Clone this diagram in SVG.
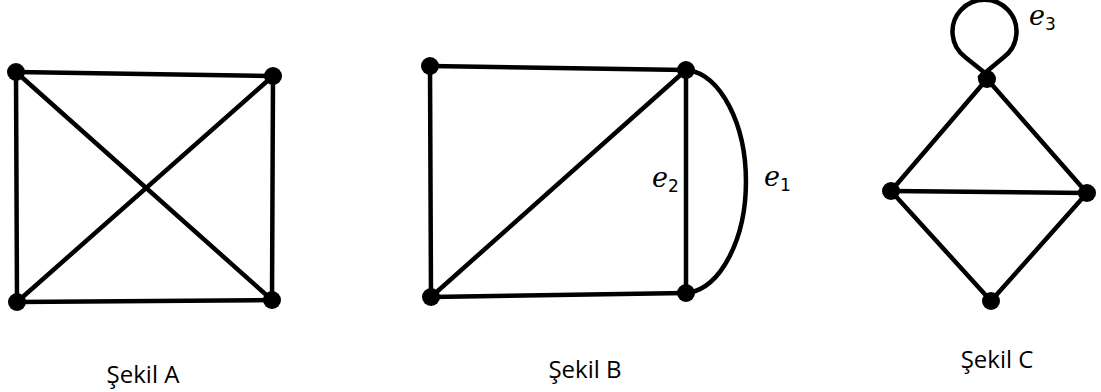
<svg xmlns="http://www.w3.org/2000/svg" width="1101" height="392" viewBox="0 0 1101 392">
<style>
.e{stroke:#000;stroke-width:4.5;fill:none;stroke-linecap:round}
.v{fill:#000}
.cap{font-family:"Open Sans","Noto Sans",sans-serif;font-size:24px;fill:#000;text-anchor:middle}
.lab{font-family:"DejaVu Serif",serif;font-style:italic;font-size:27px;fill:#000}
.sub{font-family:"DejaVu Sans",sans-serif;font-style:normal;font-size:17px}
</style>
<rect width="1101" height="392" fill="#fff"/>
<g id="connectors">
  <!-- Graph A -->
  <line class="e" x1="16" y1="72" x2="273" y2="76"/>
  <line class="e" x1="16" y1="72" x2="17" y2="302"/>
  <line class="e" x1="273" y1="76" x2="272" y2="300"/>
  <line class="e" x1="17" y1="302" x2="272" y2="300"/>
  <line class="e" x1="16" y1="72" x2="272" y2="300"/>
  <line class="e" x1="273" y1="76" x2="17" y2="302"/>
  <!-- Graph B -->
  <line class="e" x1="430" y1="66" x2="686" y2="70"/>
  <line class="e" x1="430" y1="66" x2="431" y2="297"/>
  <line class="e" x1="431" y1="297" x2="686" y2="293"/>
  <line class="e" x1="686" y1="70" x2="431" y2="297"/>
  <line class="e" x1="686" y1="70" x2="686" y2="293"/>
  <path class="e" d="M688,70 A64,112 0 0 1 688,293"/>
  <!-- Graph C -->
  <line class="e" x1="987" y1="79" x2="891" y2="191"/>
  <line class="e" x1="987" y1="79" x2="1087" y2="193"/>
  <line class="e" x1="891" y1="191" x2="1087" y2="193"/>
  <line class="e" x1="891" y1="191" x2="991" y2="301"/>
  <line class="e" x1="1087" y1="193" x2="991" y2="301"/>
  <path class="e" d="M990,77 L965,57 A32,32 0 1 1 1004,57 L980,77"/>
</g>
<g id="nodeA1"><circle class="v" cx="16" cy="72" r="9"/></g>
<g id="nodeA2"><circle class="v" cx="273" cy="76" r="9"/></g>
<g id="nodeA3"><circle class="v" cx="17" cy="302" r="9"/></g>
<g id="nodeA4"><circle class="v" cx="272" cy="300" r="9"/></g>
<g id="nodeB1"><circle class="v" cx="430" cy="66" r="9"/></g>
<g id="nodeB2"><circle class="v" cx="686" cy="70" r="9"/></g>
<g id="nodeB3"><circle class="v" cx="431" cy="297" r="9"/></g>
<g id="nodeB4"><circle class="v" cx="686" cy="293" r="9"/></g>
<g id="nodeC1"><circle class="v" cx="987" cy="79" r="9"/></g>
<g id="nodeC2"><circle class="v" cx="891" cy="191" r="9"/></g>
<g id="nodeC3"><circle class="v" cx="1087" cy="193" r="9"/></g>
<g id="nodeC4"><circle class="v" cx="991" cy="301" r="9"/></g>
<g id="labels">
  <text class="lab" x="652" y="187">e<tspan class="sub" dy="5">2</tspan></text>
  <text class="lab" x="764" y="186">e<tspan class="sub" dy="5">1</tspan></text>
  <text class="lab" x="1029" y="25">e<tspan class="sub" dy="5">3</tspan></text>
  <text class="cap" x="143" y="383">Şekil A</text>
  <text class="cap" x="585" y="378">Şekil B</text>
  <text class="cap" x="997" y="368">Şekil C</text>
</g>
</svg>
